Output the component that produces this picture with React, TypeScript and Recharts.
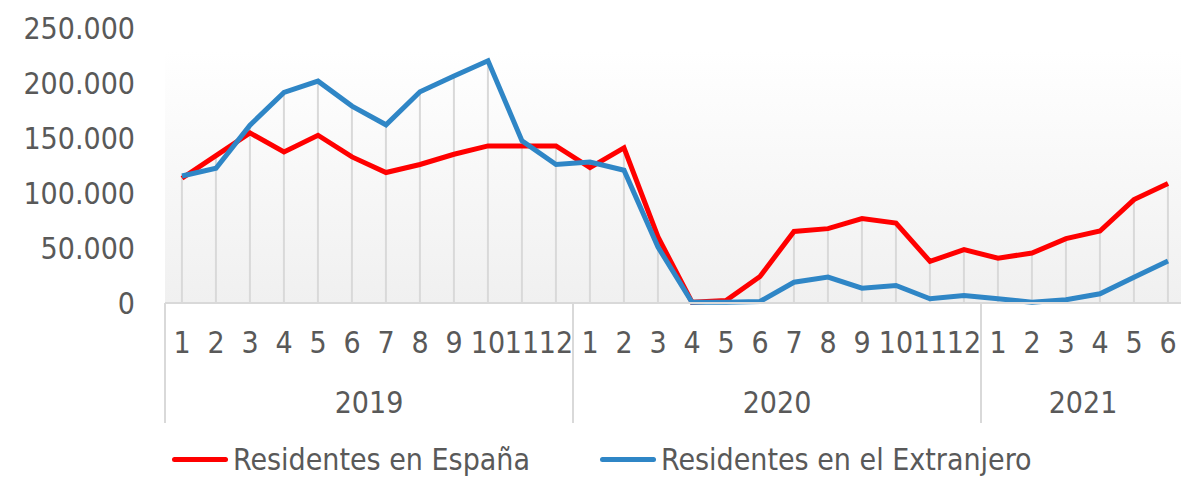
import { Bar, CartesianGrid, ComposedChart, Legend, Line, XAxis, YAxis } from "recharts"

const years = ["2019", "2020", "2021"]
const monthsInYear = [12, 12, 6]
const months = [
  "1", "2", "3", "4", "5", "6", "7", "8", "9", "10", "11", "12",
  "1", "2", "3", "4", "5", "6", "7", "8", "9", "10", "11", "12",
  "1", "2", "3", "4", "5", "6",
]

const residentesEspana = [
  113400, 134000, 154600, 137300, 152500, 132800, 118600, 125900, 135200, 142800, 142800, 142800,
  123100, 141000, 60000, 700, 2300, 24100, 65100, 67600, 76700, 72700, 37800, 48500,
  40800, 45400, 58500, 65400, 94000, 108600,
]
const residentesExtranjero = [
  115500, 122500, 161700, 191400, 201700, 179000, 162000, 192000, 206300, 220200, 147400, 125900,
  128200, 120700, 50800, 700, 700, 1400, 18900, 23500, 13500, 15900, 3800, 6800,
  3800, 700, 2900, 8400, 23500, 38100,
]
const yTicks = [0, 50000, 100000, 150000, 200000, 250000]

const FONT = "'DejaVu Sans Condensed', 'DejaVu Sans', sans-serif"
const TEXT = "#595959"
const GRID = "#d9d9d9"

const CHART_W = 1200
const CHART_H = 478
const Y_AXIS_W = 165
const MARGIN = { top: 28, right: 15, left: 0, bottom: 55 }
const PLOT_W = CHART_W - MARGIN.left - MARGIN.right - Y_AXIS_W
const BAND = PLOT_W / months.length

// year for every category, plus where each year starts
const yearIndex: number[] = []
const yearStart: number[] = []
monthsInYear.forEach((n, yi) => {
  yearStart.push(yearIndex.length)
  for (let k = 0; k < n; k++) yearIndex.push(yi)
})

const data = months.map((m, i) => ({
  idx: i,
  month: m,
  esp: residentesEspana[i],
  ext: residentesExtranjero[i],
  top: Math.max(residentesEspana[i], residentesExtranjero[i]),
}))

const fmt = (v: number) => String(v).replace(/\B(?=(\d{3})+(?!\d))/g, ".")

function DropLine(props: any) {
  const { x, y, width, height } = props
  if (x == null || height == null) return null
  const cx = x + width / 2
  return <line x1={cx} y1={y} x2={cx} y2={y + height} stroke={GRID} strokeWidth={2} />
}

function CategoryTick(props: any) {
  const { x, y, payload } = props
  const i = payload.index ?? props.index
  const yi = yearIndex[i]
  const first = yearStart[yi] === i
  const last = i === months.length - 1
  return (
    <g>
      <text x={x} y={y + 39} textAnchor="middle" dominantBaseline="central" fill={TEXT} fontSize={30} fontFamily={FONT}>
        {months[i]}
      </text>
      {first && (
        <>
          <line x1={x - BAND / 2} y1={y} x2={x - BAND / 2} y2={y + 120} stroke={GRID} strokeWidth={2} />
          <text
            x={x + ((monthsInYear[yi] - 1) * BAND) / 2}
            y={y + 99}
            textAnchor="middle"
            dominantBaseline="central"
            fill={TEXT}
            fontSize={30}
            fontFamily={FONT}
          >
            {years[yi]}
          </text>
        </>
      )}
      {last && <line x1={x + BAND / 2} y1={y} x2={x + BAND / 2} y2={y + 120} stroke={GRID} strokeWidth={2} />}
    </g>
  )
}

function LegendContent() {
  const items = [
    { name: "Residentes en España", color: "#ff0000", left: 172 },
    { name: "Residentes en el Extranjero", color: "#2f86c6", left: 600 },
  ]
  return (
    <div style={{ position: "relative", height: 40, fontFamily: FONT, fontSize: 30, color: TEXT }}>
      {items.map((it) => (
        <div key={it.name} style={{ position: "absolute", left: it.left, top: 0, display: "flex", alignItems: "center", whiteSpace: "nowrap" }}>
          <span style={{ display: "inline-block", width: 56, height: 5, borderRadius: 3, background: it.color, marginRight: 5 }} />
          <span>{it.name}</span>
        </div>
      ))}
    </div>
  )
}

export default function App() {
  return (
    <div style={{ position: "absolute", left: 0, top: 0, width: 1181, height: 478, overflow: "hidden", background: "#fff" }}>
      <ComposedChart width={CHART_W} height={CHART_H} data={data} margin={MARGIN}>
        <defs>
          <linearGradient id="plotBg" x1="0" y1="0" x2="0" y2="1">
            <stop offset="8%" stopColor="#ffffff" />
            <stop offset="100%" stopColor="#f0f0f0" />
          </linearGradient>
        </defs>
        <CartesianGrid horizontal={false} vertical={false} fill="url(#plotBg)" />
        <XAxis
          dataKey="idx"
          interval={0}
          tickLine={false}
          tickSize={0}
          tickMargin={0}
          height={120}
          axisLine={{ stroke: GRID, strokeWidth: 2 }}
          tick={<CategoryTick />}
        />
        <YAxis
          domain={[0, 250000]}
          ticks={yTicks}
          width={Y_AXIS_W}
          axisLine={false}
          tickLine={false}
          tickSize={0}
          tickMargin={30}
          tickFormatter={fmt}
          tick={{ fill: TEXT, fontSize: 30, fontFamily: FONT }}
        />
        <Bar dataKey="top" shape={<DropLine />} isAnimationActive={false} legendType="none" />
        <Line dataKey="esp" name="Residentes en España" stroke="#ff0000" strokeWidth={5} dot={false} isAnimationActive={false} />
        <Line dataKey="ext" name="Residentes en el Extranjero" stroke="#2f86c6" strokeWidth={5} dot={false} isAnimationActive={false} />
        <Legend
          layout="horizontal"
          verticalAlign="middle"
          align="center"
          wrapperStyle={{ top: 442, left: 0, width: 1181 }}
          content={<LegendContent />}
        />
      </ComposedChart>
    </div>
  )
}
